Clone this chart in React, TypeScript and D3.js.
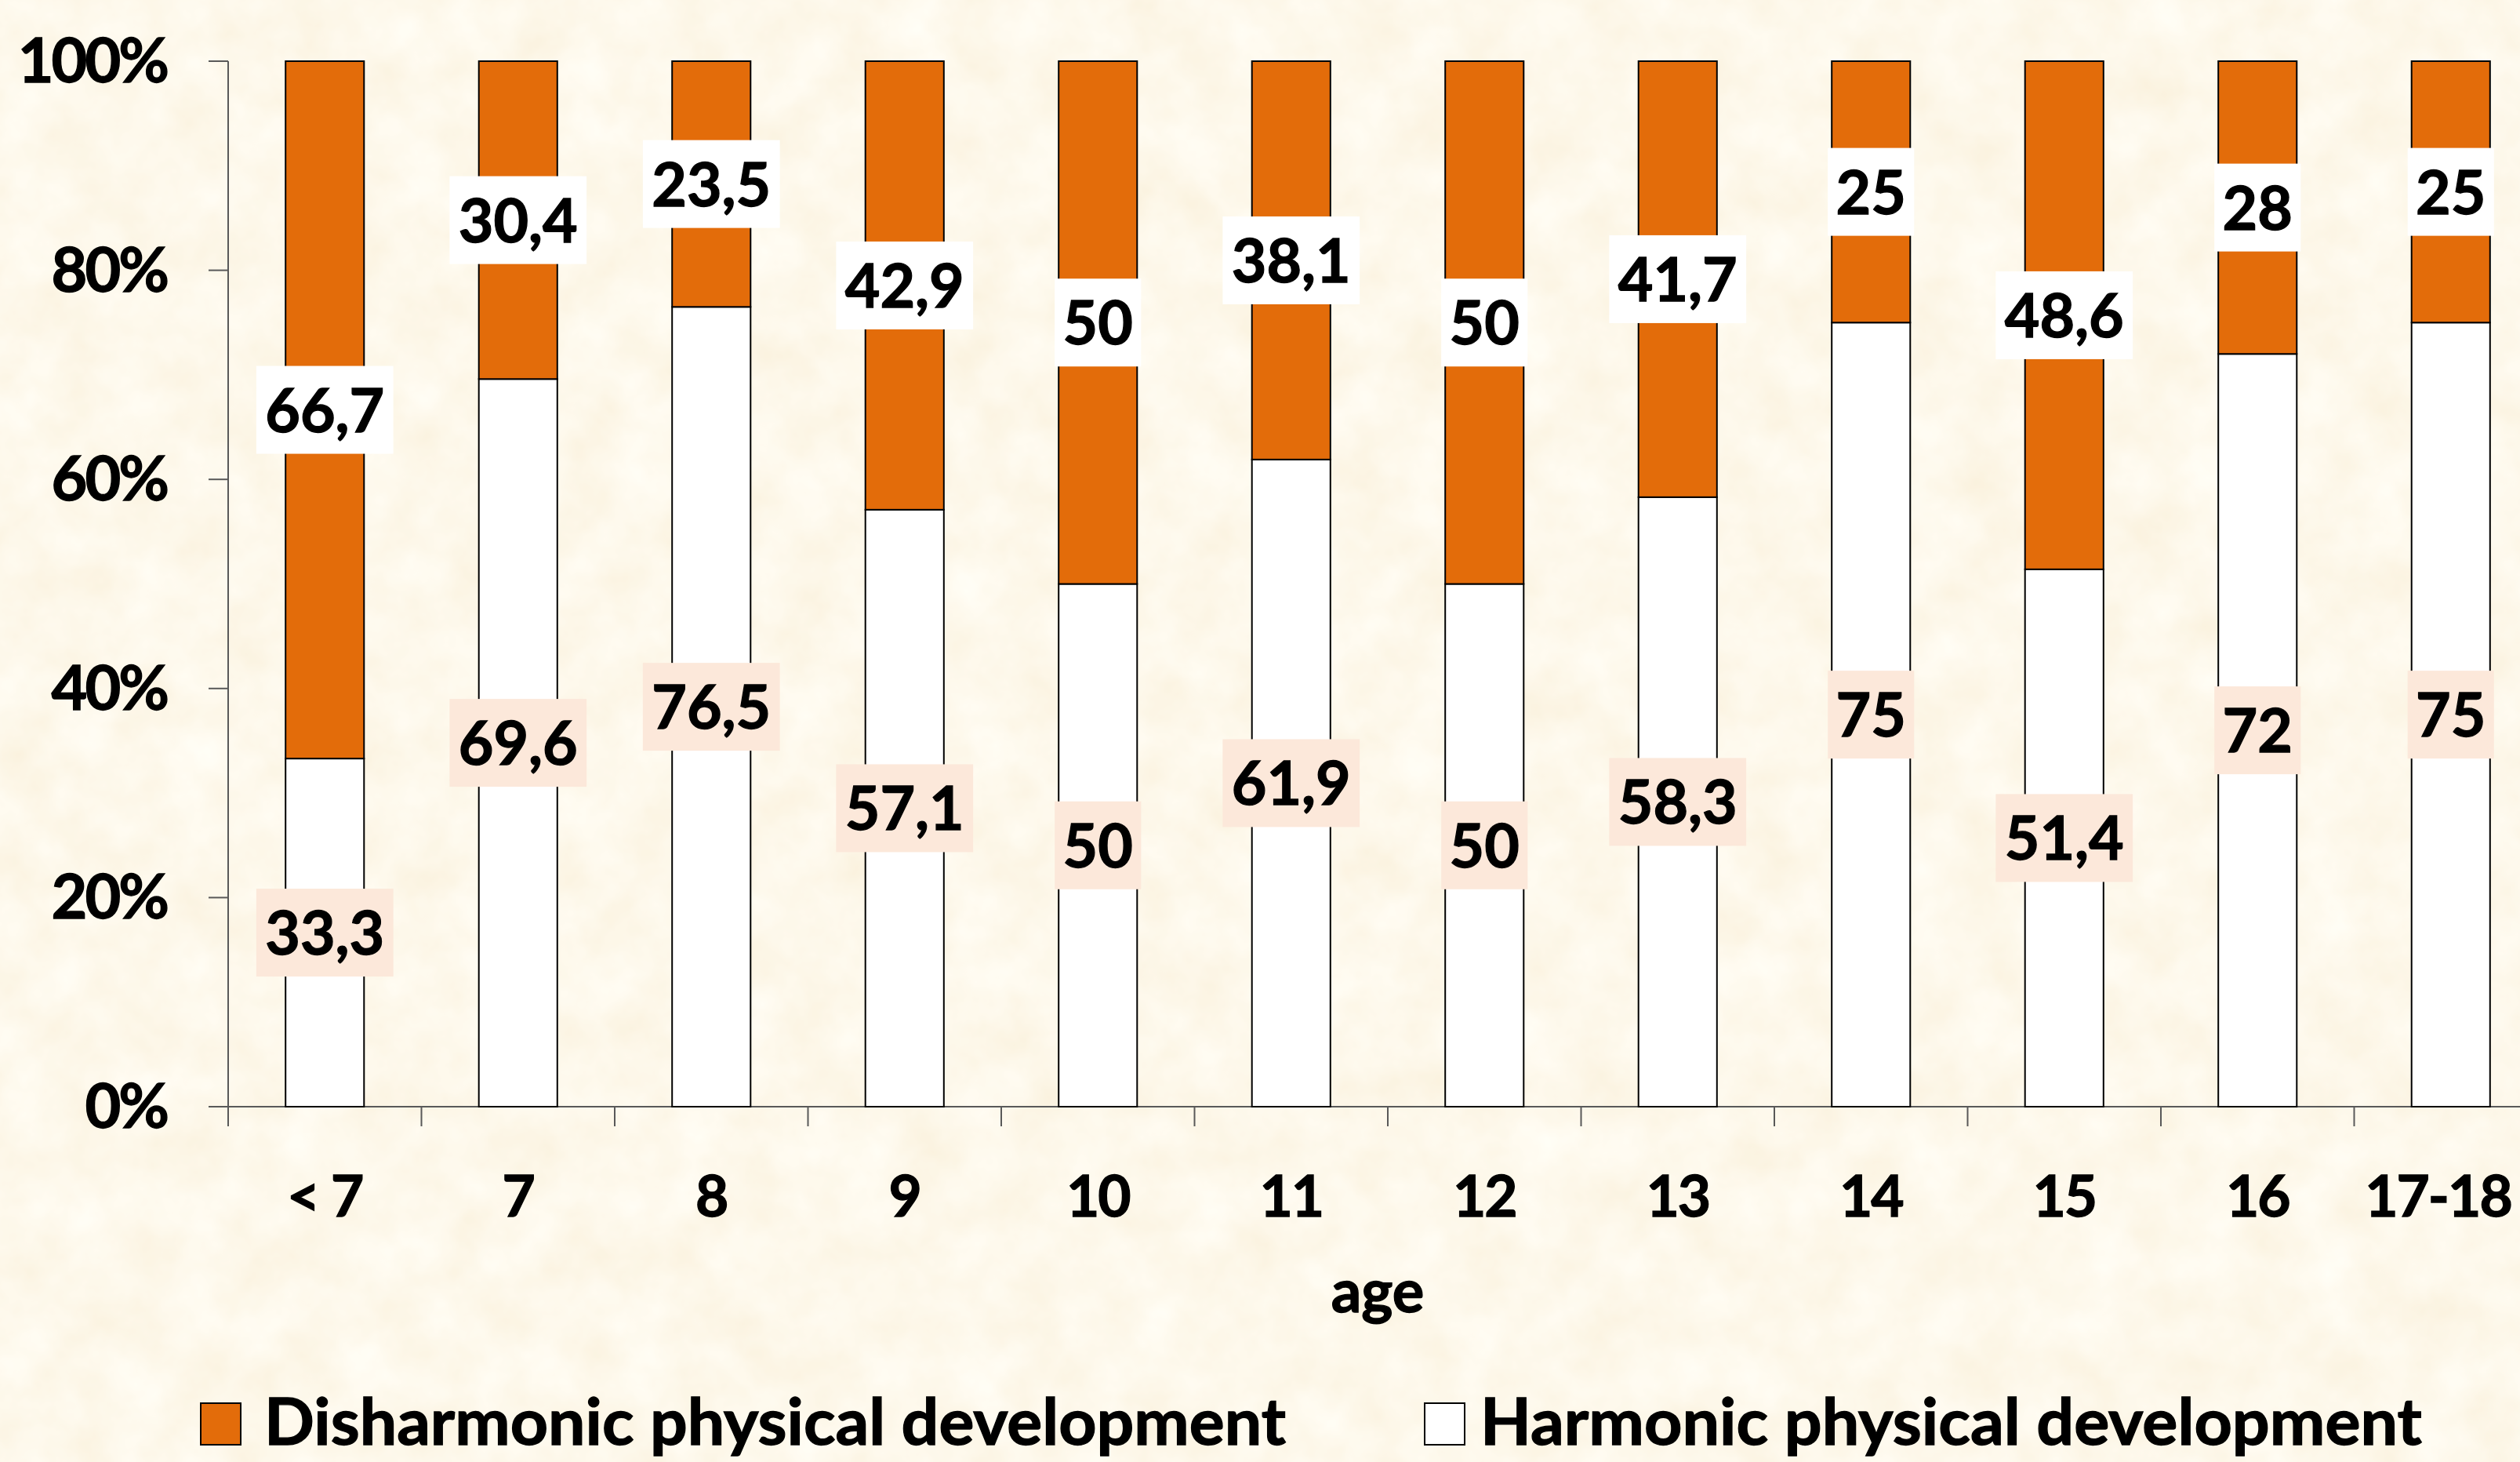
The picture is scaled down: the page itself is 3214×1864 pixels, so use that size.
import React from "react";
import { scaleBand, scaleLinear } from "d3";

const categories = ["< 7", "7", "8", "9", "10", "11", "12", "13", "14", "15", "16", "17-18"];
const harmonic = [33.3, 69.6, 76.5, 57.1, 50, 61.9, 50, 58.3, 75, 51.4, 72, 75];
const disharmonic = [66.7, 30.4, 23.5, 42.9, 50, 38.1, 50, 41.7, 25, 48.6, 28, 25];
const yTicks = [0, 20, 40, 60, 80, 100];
const legendLabels = ["Disharmonic physical development", "Harmonic physical development"];

const W = 3214;
const H = 1864;
const ORANGE = "#e36c0a";
const FONT = "Lato, 'Open Sans', sans-serif";

const fmt = (v: number) => String(v).replace(".", ",");

export default function App() {
  const x = scaleBand<string>()
    .domain(categories)
    .range([291, 3249])
    .paddingInner(0.594)
    .paddingOuter(0.297);
  const y = scaleLinear().domain([0, 100]).range([1411, 78]);

  const bw = x.bandwidth();
  const step = x.step();
  const x0 = 291;

  // rough label width, Lato bold digits
  const labelW = (s: string) => {
    let w = 0;
    for (const ch of s) w += ch === "," ? 0.27 : 0.58;
    return w * 76 + 22;
  };

  // keep category labels inside the picture, as Excel does
  const catX = (c: string) => {
    const cx = (x(c) ?? 0) + bw / 2;
    const half = (c.length * 0.54 * 73) / 2;
    return Math.min(cx, W - half - 6);
  };

  return (
    <svg
      width={W}
      height={H}
      style={{ position: "absolute", left: 0, top: 0, display: "block" }}
      fontFamily={FONT}
      fontWeight={700}
    >
      <defs>
        <filter id="paper" x="0" y="0" width="100%" height="100%">
          <feTurbulence type="fractalNoise" baseFrequency="0.014" numOctaves={4} seed={7} />
          <feColorMatrix
            type="matrix"
            values="0.06 0 0 0 0.956  0.12 0 0 0 0.88  0.22 0 0 0 0.72  0 0 0 0 1"
          />
        </filter>
      </defs>
      <rect width={W} height={H} fill="#fcefd6" />
      <rect width={W} height={H} filter="url(#paper)" />

      {/* axes */}
      <g stroke="#595959" strokeWidth={2} fill="none">
        <line x1={x0} x2={x0} y1={y(100)} y2={y(0) + 25} />
        <line x1={x0 - 25} x2={W} y1={y(0)} y2={y(0)} />
        {yTicks.map((t) => (
          <line key={t} x1={x0 - 25} x2={x0} y1={y(t)} y2={y(t)} />
        ))}
        {categories.map((c, i) => (
          <line key={c} x1={x0 + (i + 1) * step} x2={x0 + (i + 1) * step} y1={y(0)} y2={y(0) + 25} />
        ))}
      </g>

      {/* bars */}
      {categories.map((c, i) => (
        <g key={c} stroke="#000" strokeWidth={2}>
          <rect x={x(c)} y={y(harmonic[i])} width={bw} height={y(0) - y(harmonic[i])} fill="#fff" />
          <rect
            x={x(c)}
            y={y(100)}
            width={bw}
            height={y(harmonic[i]) - y(100)}
            fill={ORANGE}
          />
        </g>
      ))}

      <g stroke="#000" strokeWidth={1.3}>
        {/* data labels */}
        {categories.map((c, i) => {
          const cx = (x(c) ?? 0) + bw / 2;
          const yh = y(harmonic[i] / 2);
          const yd = y(harmonic[i] + disharmonic[i] / 2);
          const sh = fmt(harmonic[i]);
          const sd = fmt(disharmonic[i]);
          return (
            <g key={c} fontSize={77} textAnchor="middle">
              <rect x={cx - labelW(sd) / 2} y={yd - 56} width={labelW(sd)} height={112} fill="#fff" stroke="none" />
              <text x={cx} y={yd + 28}>{sd}</text>
              <rect x={cx - labelW(sh) / 2} y={yh - 56} width={labelW(sh)} height={112} fill="#fce8da" stroke="none" />
              <text x={cx} y={yh + 28}>{sh}</text>
            </g>
          );
        })}

        {/* y tick labels */}
        {yTicks.map((t) => (
          <text key={t} x={213} y={y(t) + 27} fontSize={79} textAnchor="end" letterSpacing={-3}>
            {t}%
          </text>
        ))}

        {/* category labels */}
        {categories.map((c) => (
          <text key={c} x={catX(c)} y={1551} fontSize={73} textAnchor="middle" letterSpacing={-2}>
            {c}
          </text>
        ))}

        <text x={1757} y={1673} fontSize={76} textAnchor="middle">age</text>

        {/* legend */}
        <text x={337} y={1842} fontSize={83} textLength={1303} lengthAdjust="spacingAndGlyphs">
          {legendLabels[0]}
        </text>
        <text x={1888} y={1842} fontSize={83} textLength={1201} lengthAdjust="spacingAndGlyphs">
          {legendLabels[1]}
        </text>
      </g>
      <rect x={256} y={1789} width={51} height={53} fill={ORANGE} stroke="#000" strokeWidth={2} />
      <rect x={1817} y={1789} width={51} height={53} fill="#fff" stroke="#000" strokeWidth={2} />
    </svg>
  );
}
